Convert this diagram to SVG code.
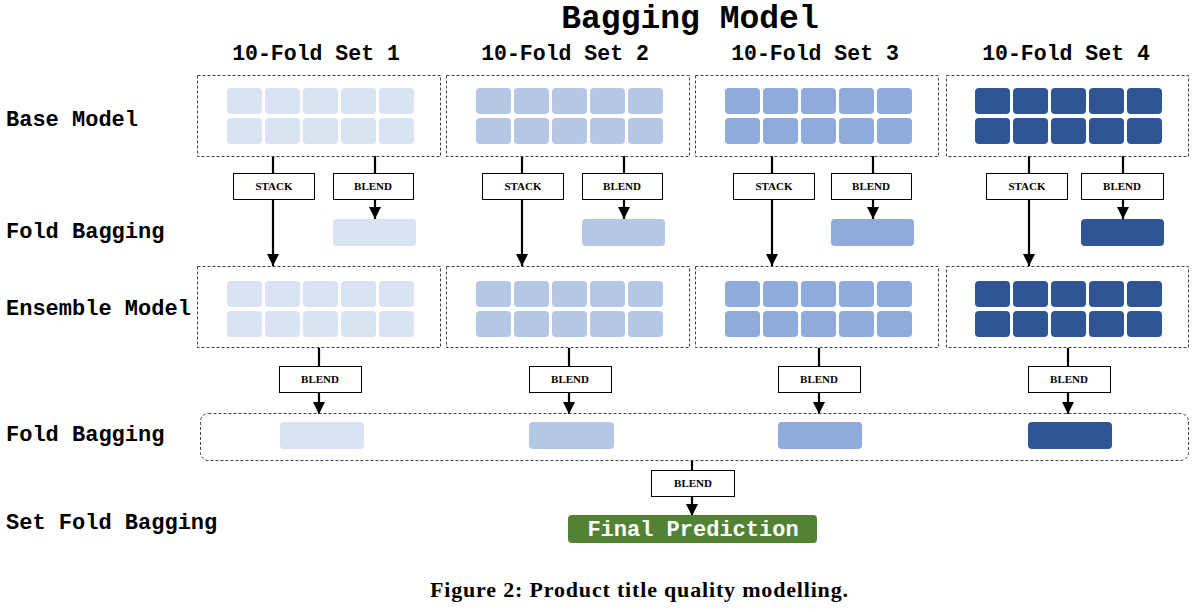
<svg xmlns="http://www.w3.org/2000/svg" width="1200" height="612" viewBox="0 0 1200 612">
<style>
.mono{font-family:"Liberation Mono","Courier New",monospace;font-weight:bold;fill:#000}
.ttl{font-size:33px}
.col{font-size:21.5px}
.row{font-size:22px}
.frame{fill:none;stroke:#444;stroke-width:1;stroke-dasharray:3,2}
.op{fill:#fff;stroke:#000;stroke-width:1}
.opt{font-family:"Liberation Serif","Times New Roman",serif;font-weight:bold;font-size:11px;fill:#000;text-anchor:middle}
.c1{fill:#dae3f3}.c2{fill:#b4c7e7}.c3{fill:#8faadc}.c4{fill:#2f5597}
.ln{stroke:#000;stroke-width:2.2;fill:none}
.cap{font-family:"Liberation Serif","Times New Roman",serif;font-weight:bold;font-size:22px;fill:#000}
</style>
<defs>
<marker id="ah" viewBox="0 0 10 10" refX="10" refY="5" markerWidth="5.5" markerHeight="5.5" orient="auto" markerUnits="strokeWidth">
<path d="M0,0 L10,5 L0,10 z" fill="#000"/>
</marker>
<g id="grid">
<rect x="0" y="0" width="35" height="26" rx="4"/>
<rect x="38" y="0" width="35" height="26" rx="4"/>
<rect x="76" y="0" width="35" height="26" rx="4"/>
<rect x="114" y="0" width="35" height="26" rx="4"/>
<rect x="152" y="0" width="35" height="26" rx="4"/>
<rect x="0" y="30" width="35" height="26" rx="4"/>
<rect x="38" y="30" width="35" height="26" rx="4"/>
<rect x="76" y="30" width="35" height="26" rx="4"/>
<rect x="114" y="30" width="35" height="26" rx="4"/>
<rect x="152" y="30" width="35" height="26" rx="4"/>
</g>
</defs>
<rect width="1200" height="612" fill="#fff"/>
<g id="titles">
<text class="mono ttl" x="690" y="28" text-anchor="middle">Bagging Model</text>
<text class="mono col" x="316" y="60" text-anchor="middle">10-Fold Set 1</text>
<text class="mono col" x="565" y="60" text-anchor="middle">10-Fold Set 2</text>
<text class="mono col" x="815" y="60" text-anchor="middle">10-Fold Set 3</text>
<text class="mono col" x="1066" y="60" text-anchor="middle">10-Fold Set 4</text>
</g>
<g id="row-labels">
<text class="mono row" x="6" y="126">Base Model</text>
<text class="mono row" x="6" y="238">Fold Bagging</text>
<text class="mono row" x="6" y="315">Ensemble Model</text>
<text class="mono row" x="6" y="441">Fold Bagging</text>
<text class="mono row" x="6" y="529">Set Fold Bagging</text>
</g>
<g id="connectors">
<line class="ln" x1="273" y1="156" x2="273" y2="173"/><line class="ln" x1="273" y1="199" x2="273" y2="266" marker-end="url(#ah)"/>
<line class="ln" x1="375" y1="156" x2="375" y2="173"/><line class="ln" x1="375" y1="199" x2="375" y2="219" marker-end="url(#ah)"/>
<line class="ln" x1="522" y1="156" x2="522" y2="173"/><line class="ln" x1="522" y1="199" x2="522" y2="266" marker-end="url(#ah)"/>
<line class="ln" x1="624" y1="156" x2="624" y2="173"/><line class="ln" x1="624" y1="199" x2="624" y2="219" marker-end="url(#ah)"/>
<line class="ln" x1="772" y1="156" x2="772" y2="173"/><line class="ln" x1="772" y1="199" x2="772" y2="266" marker-end="url(#ah)"/>
<line class="ln" x1="873" y1="156" x2="873" y2="173"/><line class="ln" x1="873" y1="199" x2="873" y2="219" marker-end="url(#ah)"/>
<line class="ln" x1="1029" y1="156" x2="1029" y2="173"/><line class="ln" x1="1029" y1="199" x2="1029" y2="266" marker-end="url(#ah)"/>
<line class="ln" x1="1123" y1="156" x2="1123" y2="173"/><line class="ln" x1="1123" y1="199" x2="1123" y2="219" marker-end="url(#ah)"/>
<line class="ln" x1="319" y1="348" x2="319" y2="366"/><line class="ln" x1="319" y1="392" x2="319" y2="414" marker-end="url(#ah)"/>
<line class="ln" x1="569" y1="348" x2="569" y2="366"/><line class="ln" x1="569" y1="392" x2="569" y2="414" marker-end="url(#ah)"/>
<line class="ln" x1="819" y1="348" x2="819" y2="366"/><line class="ln" x1="819" y1="392" x2="819" y2="414" marker-end="url(#ah)"/>
<line class="ln" x1="1068" y1="348" x2="1068" y2="366"/><line class="ln" x1="1068" y1="392" x2="1068" y2="414" marker-end="url(#ah)"/>
<line class="ln" x1="692" y1="460" x2="692" y2="470"/><line class="ln" x1="692" y1="497" x2="692" y2="516" marker-end="url(#ah)"/>
</g>
<g id="set1">
<rect class="frame" x="197.5" y="75.5" width="243" height="81"/>
<use href="#grid" x="227" y="88" class="c1"/>
<rect class="op" x="233.5" y="173.5" width="81" height="26"/><text class="opt" x="274" y="190">STACK</text>
<rect class="op" x="333.5" y="173.5" width="80" height="26"/><text class="opt" x="373" y="190">BLEND</text>
<rect class="c1" x="333" y="219" width="83" height="27" rx="4"/>
<rect class="frame" x="197.5" y="266.5" width="243" height="81"/>
<use href="#grid" x="227" y="281" class="c1"/>
<rect class="op" x="279.5" y="366.5" width="82" height="26"/><text class="opt" x="320" y="383">BLEND</text>
</g>
<g id="set2">
<rect class="frame" x="446.5" y="75.5" width="243" height="81"/>
<use href="#grid" x="476" y="88" class="c2"/>
<rect class="op" x="482.5" y="173.5" width="81" height="26"/><text class="opt" x="523" y="190">STACK</text>
<rect class="op" x="582.5" y="173.5" width="80" height="26"/><text class="opt" x="622" y="190">BLEND</text>
<rect class="c2" x="582" y="219" width="83" height="27" rx="4"/>
<rect class="frame" x="446.5" y="266.5" width="243" height="81"/>
<use href="#grid" x="476" y="281" class="c2"/>
<rect class="op" x="529.5" y="366.5" width="82" height="26"/><text class="opt" x="570" y="383">BLEND</text>
</g>
<g id="set3">
<rect class="frame" x="695.5" y="75.5" width="243" height="81"/>
<use href="#grid" x="725" y="88" class="c3"/>
<rect class="op" x="733.5" y="173.5" width="81" height="26"/><text class="opt" x="774" y="190">STACK</text>
<rect class="op" x="831.5" y="173.5" width="80" height="26"/><text class="opt" x="871" y="190">BLEND</text>
<rect class="c3" x="831" y="219" width="83" height="27" rx="4"/>
<rect class="frame" x="695.5" y="266.5" width="243" height="81"/>
<use href="#grid" x="725" y="281" class="c3"/>
<rect class="op" x="778.5" y="366.5" width="82" height="26"/><text class="opt" x="819" y="383">BLEND</text>
</g>
<g id="set4">
<rect class="frame" x="946.5" y="75.5" width="242" height="81"/>
<use href="#grid" x="975" y="88" class="c4"/>
<rect class="op" x="986.5" y="173.5" width="81" height="26"/><text class="opt" x="1027" y="190">STACK</text>
<rect class="op" x="1081.5" y="173.5" width="82" height="26"/><text class="opt" x="1122" y="190">BLEND</text>
<rect class="c4" x="1081" y="219" width="83" height="27" rx="4"/>
<rect class="frame" x="946.5" y="266.5" width="242" height="81"/>
<use href="#grid" x="975" y="281" class="c4"/>
<rect class="op" x="1028.5" y="366.5" width="82" height="26"/><text class="opt" x="1069" y="383">BLEND</text>
</g>
<g id="fold-bagging">
<rect class="frame" x="200.5" y="413.5" width="988" height="47" rx="8"/>
<rect class="c1" x="280" y="422" width="84" height="27" rx="4"/>
<rect class="c2" x="529" y="422" width="85" height="27" rx="4"/>
<rect class="c3" x="778" y="422" width="84" height="27" rx="4"/>
<rect class="c4" x="1028" y="422" width="84" height="27" rx="4"/>
</g>
<g id="final">
<rect class="op" x="651.5" y="470.5" width="83" height="26"/><text class="opt" x="693" y="487">BLEND</text>
<rect x="568" y="515" width="249" height="28" rx="4" fill="#548235"/>
<text class="mono" x="693" y="536" text-anchor="middle" font-size="22px" style="fill:#fff">Final Prediction</text>
</g>
<text class="cap" x="430" y="597" textLength="418" lengthAdjust="spacing">Figure 2: Product title quality modelling.</text>
</svg>
